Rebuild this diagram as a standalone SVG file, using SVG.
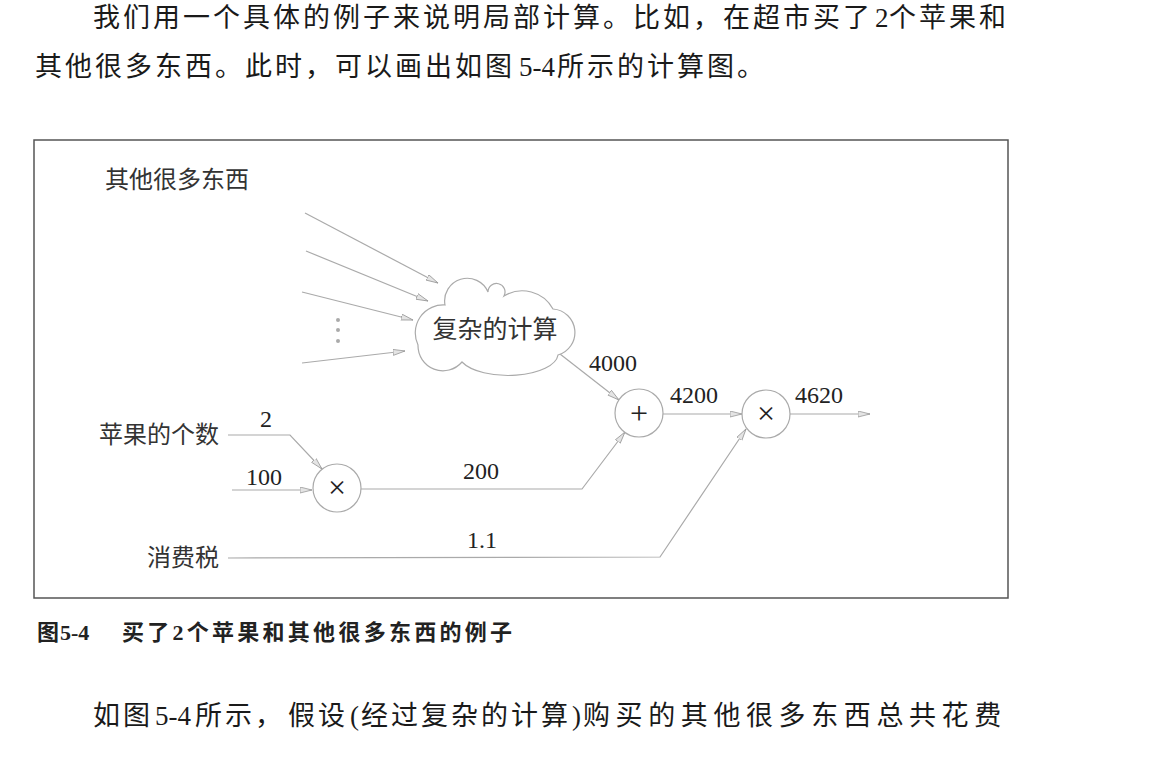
<svg xmlns="http://www.w3.org/2000/svg" width="1150" height="768" viewBox="0 0 1150 768">
<style>
.body{font-family:"Liberation Serif","Noto Sans CJK SC",serif;font-size:27px;fill:#1a1a1a}
.ls{letter-spacing:3px}
.cap{font-family:"Liberation Serif","Noto Sans CJK SC",sans-serif;font-size:22px;font-weight:bold;fill:#222}
.lbl{font-family:"Noto Sans CJK SC",sans-serif;font-size:24px;fill:#333}
.num{font-family:"Liberation Serif",serif;font-size:24px;fill:#222}
.op{font-family:"Liberation Serif",serif;fill:#222;text-anchor:middle;font-size:32px}
.node{fill:#fff;stroke:#aaa;stroke-width:1.2}
.edge{fill:none;stroke:#aaa;stroke-width:1.2;marker-end:url(#arr)}
</style>
<defs>
<marker id="arr" markerWidth="14" markerHeight="8" refX="12" refY="3.5" orient="auto" markerUnits="userSpaceOnUse">
<path d="M0,0.5 L12,3.5 L0,6.5 Z" fill="#e4e4e4" stroke="#999" stroke-width="0.8"/>
</marker>
</defs>
<rect width="1150" height="768" fill="#fff"/>

<g id="body-text">
<text class="body" y="27"><tspan class="ls" x="93">我们用一个具体的例子来说明局部计算。比如，在超市买了</tspan><tspan x="875">2</tspan><tspan class="ls" x="889">个苹果和</tspan></text>
<text class="body" y="76"><tspan class="ls" x="35">其他很多东西。此时，可以画出如图</tspan><tspan x="519">5-4</tspan><tspan class="ls" x="557">所示的计算图。</tspan></text>
<text class="body" y="725"><tspan class="ls" x="93">如图</tspan><tspan x="155">5-4</tspan><tspan class="ls" x="195">所示，</tspan><tspan class="ls" x="288">假设</tspan><tspan x="350">(</tspan><tspan class="ls" x="361">经过复杂的计算</tspan><tspan x="572">)</tspan><tspan x="583" style="letter-spacing:5.6px">购买的其他很多东西总共花费</tspan></text>
</g>

<g id="caption">
<text class="cap" y="640"><tspan x="37">图</tspan><tspan x="60">5-4</tspan><tspan x="122" textLength="390" lengthAdjust="spacing">买了2个苹果和其他很多东西的例子</tspan></text>
</g>

<rect id="frame" x="34" y="140" width="974" height="458" fill="none" stroke="#555" stroke-width="1.5"/>

<g id="connectors">
<line class="edge" x1="305" y1="213" x2="438" y2="283"/>
<line class="edge" x1="306" y1="251" x2="428" y2="301"/>
<line class="edge" x1="302" y1="292" x2="413" y2="320"/>
<line class="edge" x1="302" y1="363" x2="405" y2="351"/>
<polyline class="edge" points="228,435 290,435 322,469"/>
<line class="edge" x1="232" y1="490" x2="312" y2="490"/>
<polyline class="edge" points="361,489 582,489 625,432"/>
<polyline class="edge" points="228,558 660,557 746,429"/>
<line class="edge" x1="560" y1="354" x2="619" y2="400"/>
<line class="edge" x1="663" y1="414" x2="742" y2="414"/>
<line class="edge" x1="790" y1="414" x2="870" y2="414"/>
<circle cx="338" cy="320" r="2" fill="#aaa"/>
<circle cx="338" cy="330" r="2" fill="#aaa"/>
<circle cx="338" cy="341" r="2" fill="#aaa"/>
<text class="num" x="266" y="427" text-anchor="middle">2</text>
<text class="num" x="264" y="485" text-anchor="middle">100</text>
<text class="num" x="481" y="479" text-anchor="middle">200</text>
<text class="num" x="482" y="548" text-anchor="middle">1.1</text>
<text class="num" x="589" y="371">4000</text>
<text class="num" x="670" y="403">4200</text>
<text class="num" x="795" y="403">4620</text>
</g>

<g id="node-others">
<text class="lbl" x="105" y="188">其他很多东西</text>
</g>

<g id="node-cloud">
<path class="node" d="M418,345 A28,28 0 0 1 445,305 A22.6,22.6 0 0 1 488,292 A8.5,8.5 0 1 1 504,296 A35,35 0 0 1 553,309 A23.5,23.5 0 0 1 558,355 A50,22 0 0 1 462,362 A25,25 0 0 1 418,345 Z"/>
<text class="lbl" x="495" y="338" text-anchor="middle" style="font-size:25px">复杂的计算</text>
</g>

<g id="node-apple-count">
<text class="lbl" x="219" y="443" text-anchor="end">苹果的个数</text>
</g>

<g id="node-tax">
<text class="lbl" x="219" y="566" text-anchor="end">消费税</text>
</g>

<g id="node-mul1">
<circle class="node" cx="337" cy="488" r="24"/>
<text class="op" x="337" y="498">×</text>
</g>

<g id="node-add">
<circle class="node" cx="639" cy="413" r="24"/>
<text class="op" x="639" y="424">+</text>
</g>

<g id="node-mul2">
<circle class="node" cx="766" cy="414" r="24"/>
<text class="op" x="766" y="424">×</text>
</g>
</svg>
